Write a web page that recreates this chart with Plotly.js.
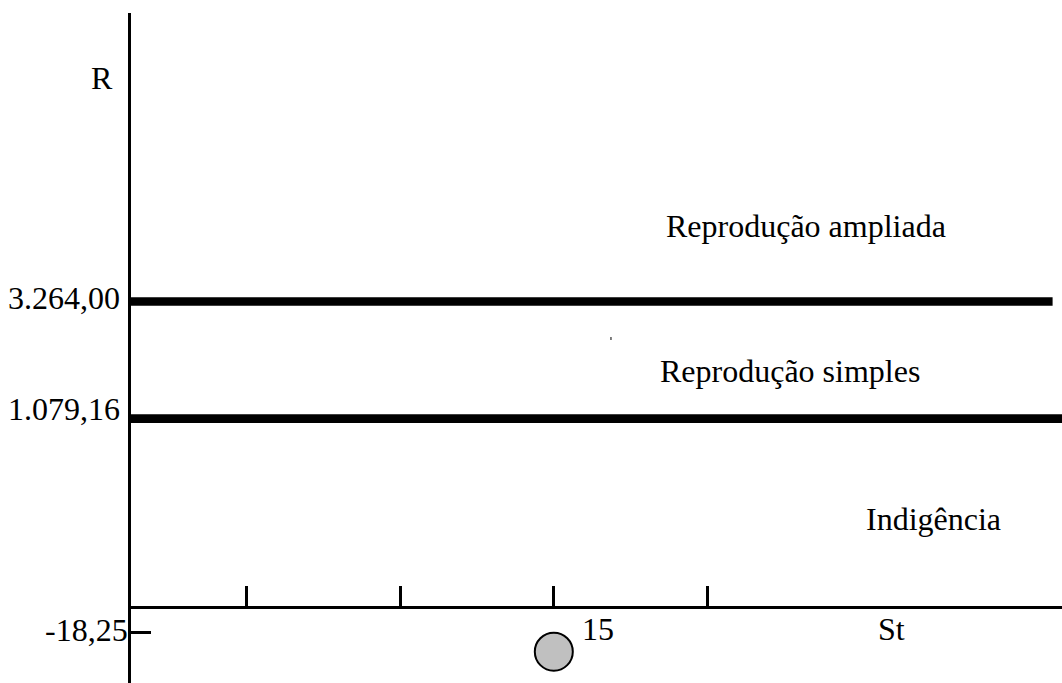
<!DOCTYPE html>
<html>
<head>
<meta charset="utf-8">
<script src="https://cdn.plot.ly/plotly-3.0.1.min.js"></script>
<style>
  html, body { margin: 0; padding: 0; background: #fff; }
  #chart { width: 1062px; height: 683px; }
</style>
</head>
<body>
<div id="chart"></div>
<script>
// ---- Data ----
const levels = [3264.00, 1079.16, -18.25];          // income thresholds (R)
const regionNames = ['Reprodução ampliada', 'Reprodução simples', 'Indigência'];
const xTickValues = [5, 10, 15, 20];                  // St axis ticks
const pointX = [15];                                   // highlighted point
const pointLabels = ['15'];
const yAxisName = 'R';
const xAxisName = 'St';

// ---- Schematic layout (diagram is not to scale) ----
const schematicY = { '3264': 381.5, '1079.16': 264.3, '-18.25': 51 };  // vertical slot for each level
const yRange = [0, 670];
const xRange = [1.242, 31.536];
const levelLineEnd = { '3264': 31.23, '1079.16': 31.536 };
const levelLabelShift = { '3264': [-9, 3.5], '1079.16': [-9, 9.7], '-18.25': [-1, 2] };
const regionPos = [[23.22, 457.5], [22.69, 312.5], [27.37, 164]];
const pointY = 31.3;
const xAxisPaperPos = 0.113;

function fmtBR(v) {
  const neg = v < 0;
  const s = Math.abs(v).toFixed(2).split('.');
  const intPart = s[0].replace(/\B(?=(\d{3})+(?!\d))/g, '.');
  return (neg ? '-' : '') + intPart + ',' + s[1];
}

const FONT = 'Liberation Serif, Times New Roman, serif';
const FS = 32;

const traces = [];
// thick threshold lines
levels.forEach(v => {
  if (levelLineEnd[String(v)] === undefined) return;
  const y = schematicY[String(v)];
  traces.push({
    x: [xRange[0], levelLineEnd[String(v)]],
    y: [y, y],
    mode: 'lines',
    line: { color: '#000', width: 8.7 },
    hoverinfo: 'skip',
    showlegend: false
  });
});
// highlighted point
traces.push({
  x: pointX,
  y: pointX.map(() => pointY),
  mode: 'markers',
  marker: { size: 38, color: '#c0c0c0', line: { color: '#000', width: 2 } },
  hoverinfo: 'skip',
  showlegend: false,
  cliponaxis: false
});

const annotations = [];
levels.forEach(v => {
  const sh = levelLabelShift[String(v)];
  annotations.push({
    xref: 'paper', yref: 'y', x: 0, y: schematicY[String(v)],
    xanchor: 'right', yanchor: 'middle', xshift: sh[0], yshift: sh[1],
    text: fmtBR(v), showarrow: false, font: { family: FONT, size: FS, color: '#000' }
  });
});
regionNames.forEach((name, i) => {
  annotations.push({
    xref: 'x', yref: 'y', x: regionPos[i][0], y: regionPos[i][1],
    xanchor: 'center', yanchor: 'middle',
    text: name, showarrow: false, font: { family: FONT, size: FS, color: '#000' }
  });
});
pointX.forEach((px, i) => {
  annotations.push({
    xref: 'x', yref: 'y', x: px, y: pointY,
    xanchor: 'left', yanchor: 'middle', xshift: 26, yshift: 23,
    text: pointLabels[i], showarrow: false, font: { family: FONT, size: FS, color: '#000' }
  });
});
annotations.push({
  xref: 'paper', yref: 'y', x: 0, y: 605.5, xanchor: 'center', yanchor: 'middle', xshift: -29,
  text: yAxisName, showarrow: false, font: { family: FONT, size: FS, color: '#000' }
});
annotations.push({
  xref: 'x', yref: 'y', x: 26.0, y: 54, xanchor: 'center', yanchor: 'middle',
  text: xAxisName, showarrow: false, font: { family: FONT, size: FS, color: '#000' }
});

const layout = {
  width: 1062, height: 683,
  margin: { l: 131, r: 0, t: 13, b: 0, pad: 0 },
  paper_bgcolor: '#fff', plot_bgcolor: '#fff',
  font: { family: FONT, size: FS, color: '#000' },
  showlegend: false,
  xaxis: {
    range: xRange, anchor: 'free', position: xAxisPaperPos,
    showline: true, linecolor: '#000', linewidth: 3,
    ticks: 'inside', ticklen: 20, tickwidth: 3, tickcolor: '#000',
    tickvals: xTickValues, showticklabels: false,
    showgrid: false, zeroline: false, fixedrange: true
  },
  yaxis: {
    range: yRange,
    showline: true, linecolor: '#000', linewidth: 3,
    ticks: 'inside', ticklen: 20, tickwidth: 3, tickcolor: '#000',
    tickvals: [schematicY['-18.25']], showticklabels: false,
    showgrid: false, zeroline: false, fixedrange: true
  },
  shapes: [{
    type: 'line', xref: 'x', yref: 'y', x0: 16.86, x1: 16.86, y0: 343, y1: 346,
    line: { color: '#000', width: 1 }
  }],
  annotations: annotations
};

Plotly.newPlot('chart', traces, layout, { displayModeBar: false, staticPlot: true });
</script>
</body>
</html>
